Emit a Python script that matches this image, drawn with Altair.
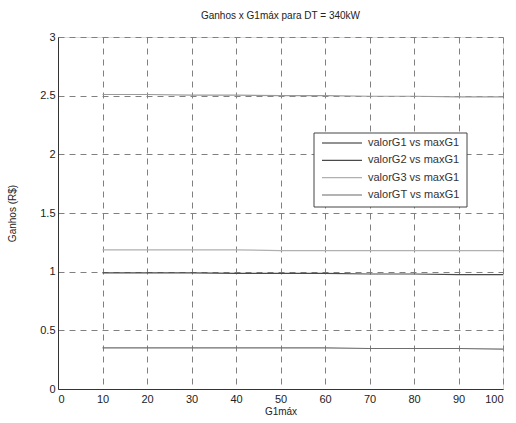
import altair as alt
import pandas as pd

x_vals = [10, 20, 30, 40, 50, 60, 70, 80, 90, 100]
g1 = [0.35, 0.35, 0.35, 0.35, 0.35, 0.35, 0.345, 0.345, 0.345, 0.34]
g2 = [0.99, 0.99, 0.99, 0.985, 0.985, 0.985, 0.98, 0.98, 0.975, 0.975]
g3 = [1.185, 1.185, 1.185, 1.185, 1.18, 1.18, 1.18, 1.18, 1.18, 1.18]
gt = [2.51, 2.51, 2.505, 2.505, 2.5, 2.5, 2.495, 2.495, 2.49, 2.49]
series_names = ["valorG1 vs maxG1", "valorG2 vs maxG1", "valorG3 vs maxG1", "valorGT vs maxG1"]
series_colors = ["#6e6e6e", "#4a4a4a", "#b0b0b0", "#9a9a9a"]

rows = []
for name, vals in zip(series_names, [g1, g2, g3, gt]):
    for xv, yv in zip(x_vals, vals):
        rows.append({"G1max": xv, "Ganhos": yv, "serie": name})
df = pd.DataFrame(rows)
legend_df = pd.DataFrame({"serie": series_names, "idx": list(range(len(series_names)))})

font = "Liberation Sans"
color_scale = alt.Scale(domain=series_names, range=series_colors)

lines = alt.Chart(df).mark_line(strokeWidth=1.2).encode(
    x=alt.X("G1max:Q", scale=alt.Scale(domain=[0, 100], nice=False),
            axis=alt.Axis(values=list(range(0, 101, 10)), title="G1máx",
                          grid=True, gridDash=[6, 5], gridColor="#808080", gridOpacity=1,
                          domainColor="#333", tickSize=0, labelPadding=4,
                          labelFontSize=11, titleFontSize=10, titleFontWeight="normal",
                          labelFont=font, titleFont=font, labelColor="#222", titleColor="#222",
                          titlePadding=2)),
    y=alt.Y("Ganhos:Q", scale=alt.Scale(domain=[0, 3], nice=False),
            axis=alt.Axis(values=[0, 0.5, 1, 1.5, 2, 2.5, 3], title="Ganhos (R$)", format="~g",
                          grid=True, gridDash=[6, 5], gridColor="#808080", gridOpacity=1,
                          domainColor="#333", tickSize=0, labelPadding=3,
                          labelFontSize=11, titleFontSize=10, titleFontWeight="normal",
                          labelFont=font, titleFont=font, labelColor="#222", titleColor="#222",
                          titlePadding=22)),
    color=alt.Color("serie:N", scale=color_scale, legend=None),
)

box = alt.Chart(pd.DataFrame({"k": [0]})).mark_rect(fill="white", stroke="#444", strokeWidth=1).encode(
    x=alt.value(256), x2=alt.value(409), y=alt.value(96), y2=alt.value(170)
)

leg_y = alt.Y("idx:Q", scale=alt.Scale(domain=[0, 3], range=[106, 158]), axis=None)

leg_lines = alt.Chart(legend_df).mark_rule(strokeWidth=1.3).encode(
    x=alt.value(264), x2=alt.value(304), y=leg_y,
    color=alt.Color("serie:N", scale=color_scale, legend=None),
)

leg_text = alt.Chart(legend_df).mark_text(align="left", baseline="middle", font=font,
                                          fontSize=11, color="#333").encode(
    x=alt.value(310), y=leg_y, text="serie:N"
)

chart = alt.layer(lines, box, leg_lines, leg_text).resolve_scale(y="independent").properties(
    width=445, height=352,
    title=alt.TitleParams("Ganhos x G1máx para DT = 340kW", font=font, fontSize=10,
                          fontWeight="normal", color="#222", offset=10),
    autosize=alt.AutoSizeParams(type="none"),
    padding={"left": 58, "top": 37, "right": 13, "bottom": 34},
).configure_view(stroke="#333", strokeWidth=1).configure(background="white")

chart.save("out.html", embed_options={"renderer": "svg", "actions": False})
